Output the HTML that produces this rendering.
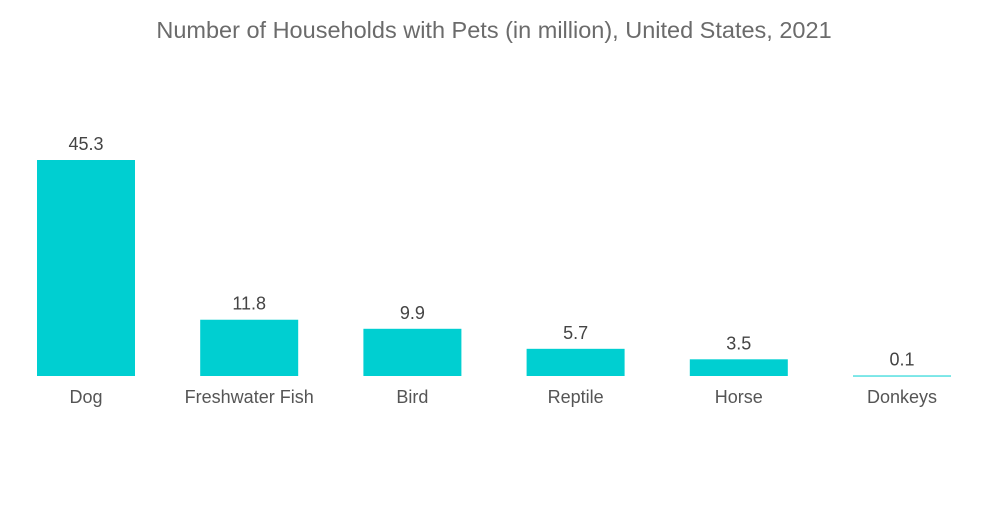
<!DOCTYPE html>
<html>
<head>
<meta charset="utf-8">
<style>
  html,body{margin:0;padding:0;background:#fff;}
  body{width:1000px;height:504px;overflow:hidden;font-family:"Liberation Sans",sans-serif;}
  svg text{font-family:"Liberation Sans",sans-serif;}
</style>
</head>
<body>
<svg id="chart" width="1000" height="504">
  <text x="494" y="38" text-anchor="middle" font-size="23.5" fill="#6b6b6b">Number of Households with Pets (in million), United States, 2021</text>
  <g id="bars"></g>
</svg>
<script>
const categories = ["Dog","Freshwater Fish","Bird","Reptile","Horse","Donkeys"];
const values = [45.3, 11.8, 9.9, 5.7, 3.5, 0.1];
const valueLabels = ["45.3","11.8","9.9","5.7","3.5","0.1"];

const baseY = 376, pxPerUnit = 216/45.3;
const firstX = 37, step = 163.2, barW = 98;
function xPos(i){ return firstX + i*step; }
function yPos(v){ return baseY - v*pxPerUnit; }
const ns = "http://www.w3.org/2000/svg";
const g = document.getElementById("bars");
categories.forEach((c,i)=>{
  const x = xPos(i), y = yPos(values[i]);
  const r = document.createElementNS(ns,"rect");
  r.setAttribute("x", x); r.setAttribute("y", y);
  r.setAttribute("width", barW); r.setAttribute("height", Math.max(baseY - y, 1));
  r.setAttribute("fill", "#00cfd1");
  
  
  g.appendChild(r);
  const vt = document.createElementNS(ns,"text");
  vt.setAttribute("x", x + barW/2); vt.setAttribute("y", y - 10);
  vt.setAttribute("text-anchor","middle"); vt.setAttribute("font-size","18");
  vt.setAttribute("fill","#444");
  vt.textContent = valueLabels[i];
  
  
  g.appendChild(vt);
  const ct = document.createElementNS(ns,"text");
  ct.setAttribute("x", x + barW/2); ct.setAttribute("y", 403);
  ct.setAttribute("text-anchor","middle"); ct.setAttribute("font-size","18");
  ct.setAttribute("fill","#555");
  ct.textContent = c;
  
  
  g.appendChild(ct);
});
</script>
</body>
</html>
